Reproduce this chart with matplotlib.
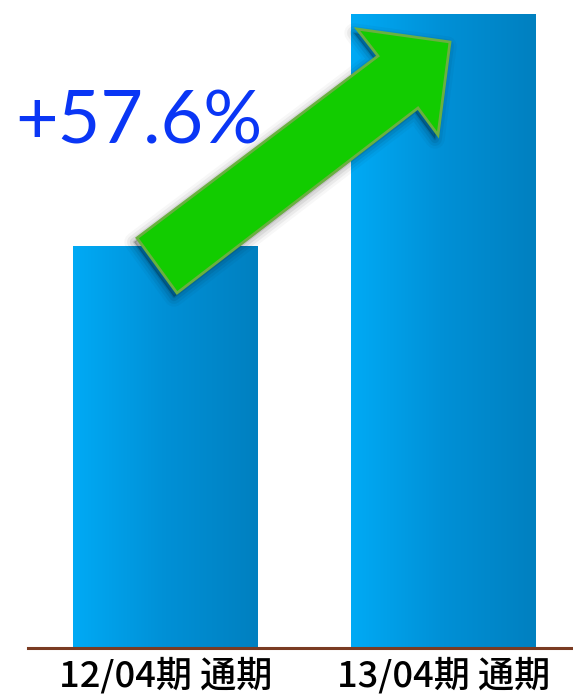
import numpy as np
import matplotlib
matplotlib.use("Agg")
import matplotlib.pyplot as plt
from matplotlib.patches import Polygon
from matplotlib.colors import LinearSegmentedColormap

# 売上推移（前期を100とした指数）
periods = ["12/04期 通期", "13/04期 通期"]
values = [100.0, 157.6]

W, H = 573, 694
fig = plt.figure(figsize=(W / 100, H / 100), dpi=100)
fig.patch.set_facecolor("white")

# 軸の下端 = 横線の位置
base_px = 648
ax = fig.add_axes([0, (H - base_px) / H, 1, base_px / H])
x = np.arange(len(periods))
width = 0.665
xlim = (-0.595, 1.466)
ylim = (0, 161.1)

bars = ax.bar(x, values, width=width, color="none", edgecolor="none", zorder=2)

# 棒の横方向グラデーション
grad = LinearSegmentedColormap.from_list("bar", ["#00aaf5", "#0090d6", "#0080c0"])
g = np.linspace(0, 1, 256).reshape(1, -1)
for b in bars:
    x0, y0 = b.get_x(), b.get_y()
    im = ax.imshow(g, cmap=grad, aspect="auto", zorder=2,
                   extent=[x0, x0 + b.get_width(), y0, y0 + b.get_height()])
    im.set_clip_path(b)
ax.set_xlim(*xlim)
ax.set_ylim(*ylim)

for s in ax.spines.values():
    s.set_visible(False)
ax.axhline(0, xmin=28 / W, xmax=1, color="#7a3b22", linewidth=2.2, zorder=3,
           clip_on=False)
ax.set_yticks([])
ax.set_xticks(x)
ax.set_xticklabels(periods, fontsize=26, fontweight="medium",
                   family=["Noto Sans CJK JP", "DejaVu Sans"])
ax.tick_params(axis="x", length=0, pad=7)

# 上昇矢印（ピクセル座標、左上原点）
arrow_px = [(137, 238), (378, 56), (357, 29), (450, 42),
            (438, 135), (418, 108), (177, 293)]
arrow = [(px / W, 1 - py / H) for px, py in arrow_px]

for lw, a in [(14, 0.03), (10, 0.05), (6, 0.07), (2, 0.1)]:
    shadow = [(px - 3 / W, py - 4 / H) for px, py in arrow]
    fig.patches.append(Polygon(shadow, closed=True, transform=fig.transFigure,
                               facecolor=(0, 0, 0, a), edgecolor=(0, 0, 0, a),
                               linewidth=lw, joinstyle="round", zorder=4))
fig.patches.append(Polygon(arrow, closed=True, transform=fig.transFigure,
                           facecolor="#12cc00", edgecolor="#6ab040",
                           linewidth=2, zorder=5))

growth = (values[1] / values[0] - 1) * 100
fig.text(15 / W, 1 - 144 / H, f"+{growth:.1f}%", fontsize=53, color="#0a36f5",
         family="Lato", ha="left", va="baseline", zorder=6)

fig.savefig("out.png", dpi=100, facecolor="white")
